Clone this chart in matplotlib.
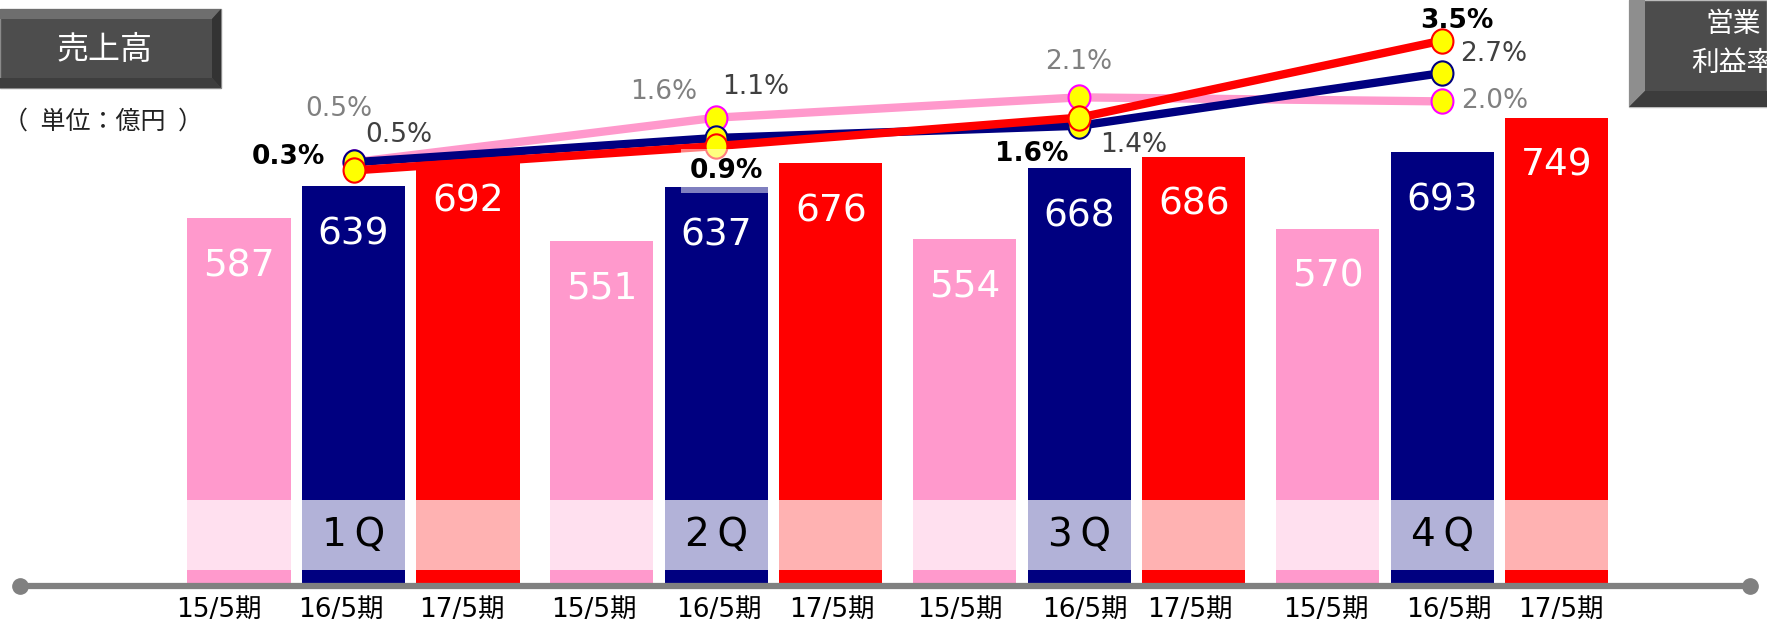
import numpy as np
import matplotlib
matplotlib.use("Agg")
import matplotlib.pyplot as plt
from matplotlib.patches import Polygon
from matplotlib.path import Path
from matplotlib.transforms import Affine2D

plt.rcParams['font.family'] = ['DejaVu Sans', 'Noto Sans CJK JP']

# data
periods = ['15/5期', '16/5期', '17/5期']
quarters = ['1Q', '2Q', '3Q', '4Q']
sales_15 = [587, 551, 554, 570]
sales_16 = [639, 637, 668, 693]
sales_17 = [692, 676, 686, 749]
margin_15 = [0.5, 1.6, 2.1, 2.0]
margin_16 = [0.5, 1.1, 1.4, 2.7]
margin_17 = [0.3, 0.9, 1.6, 3.5]

bar_colors = ['#FF99CC', '#000080', '#FF0000']
edge_colors = ['#FF00FF', '#000080', '#FF0000']

# layout (pixels of the 1767x628 picture)
W, H = 1767, 628
base_px = 583.5        # bar baseline
k = 0.622              # px per 億円
x0_px, pitch = 239, 114.5
zero_px, pct_px = 182.6, 40.6
gstep = 3.17

fig = plt.figure(figsize=(W / 100, H / 100), dpi=100)
ax = fig.add_axes([0, (H - base_px) / H, 1, base_px / H])
ax.set_ylim(0, base_px / k)
ax.set_xlim(-x0_px / pitch, (W - x0_px) / pitch)
ax.axis('off')

# small horizontal shifts of the period labels (pixels)
lab_dx = [[-20, -13, -6], [-8, 2, 1], [-5, 5, -4], [-2, 6, 4]]

groups = np.arange(len(quarters)) * gstep
series = [sales_15, sales_16, sales_17]
band_lo = (base_px - 570) / k
band_hi = (base_px - 500) / k
for j, vals in enumerate(series):
    xs = groups + j
    ax.bar(xs, vals, width=0.9, color=bar_colors[j], zorder=1)
    # light band behind the quarter label
    ax.bar(xs, band_hi - band_lo, bottom=band_lo,
           width=0.9, color='white', alpha=0.7, lw=0, zorder=1.5)
    for i, (x, v) in enumerate(zip(xs, vals)):
        ax.annotate(str(v), (x, v), xytext=(0, -48), textcoords='offset pixels',
                    ha='center', va='center', color='white', fontsize=27, zorder=2)
        ax.annotate(periods[j], (x, 0), xytext=(lab_dx[i][j], -26), textcoords='offset pixels',
                    ha='center', va='center', color='black', fontsize=19,
                    annotation_clip=False)

for g, q in zip(groups, quarters):
    ax.text(g + 1, (base_px - 535) / k, q[0] + '\u2009' + q[1], ha='center', va='center',
            fontsize=28, color='black', zorder=2)

# margin lines
ax2 = ax.twinx()
ax2.set_ylim((zero_px - base_px) / pct_px, zero_px / pct_px)
ax2.axis('off')

ell = Path.unit_circle().transformed(Affine2D().scale(0.9, 1.0))
margins = [margin_15, margin_16, margin_17]
for j, m in enumerate(margins):
    ax2.plot(groups + 1, m, color=bar_colors[j], lw=6, marker=ell, markersize=17.5,
             markerfacecolor='#FFFF00', markeredgecolor=edge_colors[j],
             markeredgewidth=1.5, zorder=3 + j, solid_capstyle='butt')

offs = [
    [(-15, 53), (-53, 26), (-1, 35), (52, 0)],
    [(45, 27), (39, 51), (54, -19), (51, 19)],
    [(-65, 13), (10, -25), (-48, -36), (14, 20)],
]
txt_colors = ['#808080', '#404040', 'black']
weights = ['normal', 'normal', 'bold']
for j, m in enumerate(margins):
    for i, v in enumerate(m):
        kw = {}
        if j == 2 and i == 1:
            kw['bbox'] = dict(boxstyle='square,pad=0.35', fc='white', ec='none', alpha=0.5)
        ax2.annotate(f'{v:.1f}%', (groups[i] + 1, v), xytext=offs[j][i],
                     textcoords='offset pixels', ha='center', va='center',
                     fontsize=19, color=txt_colors[j], fontweight=weights[j],
                     zorder=10, **kw)

# decorations in pixel space
deco = fig.add_axes([0, 0, 1, 1], facecolor='none')
deco.set_xlim(0, W)
deco.set_ylim(H, 0)
deco.axis('off')

deco.plot([20, 1750], [586, 586], color='#808080', lw=4.5, solid_capstyle='butt')
deco.plot([20, 1750], [586, 586], 'o', color='#808080', ms=11)

# left title box
deco.add_patch(Polygon([[0, 9], [221, 9], [221, 88], [0, 88]], closed=True,
                       fc='#4d4d4d', ec='#8a8a8a', lw=1))
deco.add_patch(Polygon([[0, 9], [221, 9], [212, 19], [0, 19]], closed=True, fc='#6e6e6e', ec='none'))
deco.add_patch(Polygon([[221, 9], [221, 88], [212, 78], [212, 19]], closed=True, fc='#333333', ec='none'))
deco.add_patch(Polygon([[0, 78], [212, 78], [221, 88], [0, 88]], closed=True, fc='#3e3e3e', ec='none'))
deco.text(105, 50, '売上高', ha='center', va='center', color='white', fontsize=23,
          family='Noto Sans CJK JP')
deco.text(3, 122, '（\u2002単位：億円\u2002）', ha='left', va='center', color='#222222',
          fontsize=18, family=['Noto Sans CJK JP', 'DejaVu Sans'])

# right title box
deco.add_patch(Polygon([[1629, 0], [W, 0], [W, 107], [1629, 107]], closed=True,
                       fc='#4c4c4c', ec='#bbbbbb', lw=1))
deco.add_patch(Polygon([[1629, 0], [1645, 0], [1645, 91], [1629, 107]], closed=True, fc='#8e8e8e', ec='none'))
deco.add_patch(Polygon([[1645, 91], [W, 91], [W, 107], [1629, 107]], closed=True, fc='#3c3c3c', ec='none'))
deco.text(1733, 24, '営業', ha='center', va='center', color='white', fontsize=20,
          family='Noto Sans CJK JP')
deco.text(1733, 63, '利益率', ha='center', va='center', color='white', fontsize=20,
          family='Noto Sans CJK JP')

fig.savefig('out.png', dpi=100)
